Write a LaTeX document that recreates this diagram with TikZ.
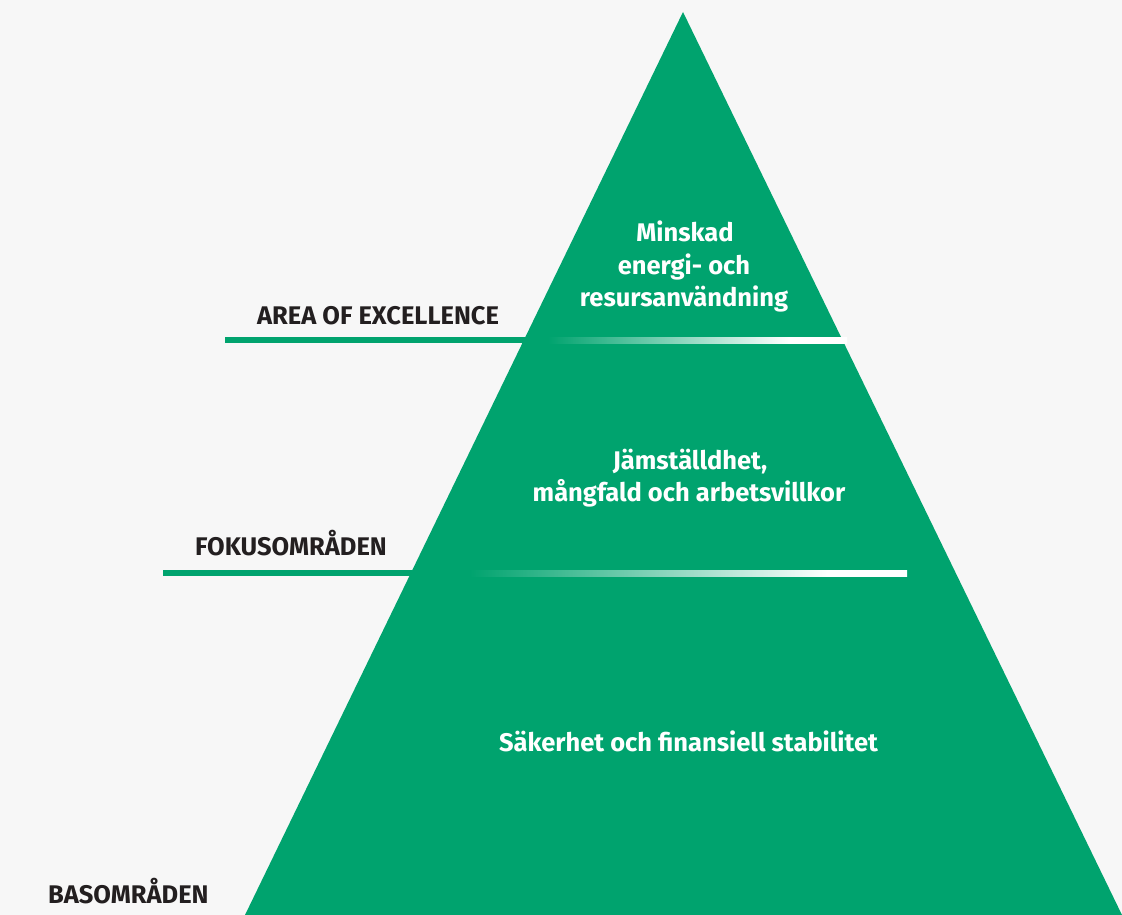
\documentclass[tikz,border=0pt]{standalone}
\usepackage{fontspec}
\setmainfont{Fira Sans}
\definecolor{pg}{HTML}{00A36E}
\definecolor{bgc}{HTML}{F7F7F7}
\definecolor{ink}{HTML}{231F20}
\pgfdeclarehorizontalshading{gradA}{100bp}{color(0bp)=(pg); color(29bp)=(pg); color(66bp)=(white); color(100bp)=(white)}
\pgfdeclarehorizontalshading{gradB}{100bp}{color(0bp)=(pg); color(31bp)=(pg); color(67bp)=(white); color(100bp)=(white)}
\tikzset{
  wt/.style={text=white, font=\bfseries\fontsize{25.5}{30}\selectfont, inner sep=0pt, anchor=base},
  lbl/.style={text=ink, font=\bfseries\fontsize{25.5}{30}\selectfont, inner sep=0pt, anchor=base west},
}
\begin{document}
\begin{tikzpicture}[x=1pt,y=-1pt]
\fill[bgc] (0,0) rectangle (1122,915);
\useasboundingbox (0,0) rectangle (1122,915);
\coordinate (apex) at (683,12);
\coordinate (bl) at (245,915);
\coordinate (br) at (1122,915);
\fill[pg] (apex) -- (bl) -- (br) -- cycle;
% level lines
\fill[pg] (225,337) rectangle (524,343);
\shade[shading=gradA] (522,337) rectangle (847,343);
\fill[pg] (163,570) rectangle (412,576);
\shade[shading=gradB] (410,570) rectangle (907,576);
% texts
\node[wt] (m1) at (685,241.5) {Minskad};
\node[wt] (m2) at (684,274) {energi- och};
\node[wt] (m3) at (684,306.5) {resursanvändning};
\node[wt] (j1) at (690,469) {Jämställdhet,};
\node[wt] (j2) at (689,501.5) {mångfald och arbetsvillkor};
\node[wt] (s1) at (688.5,751.5) {Säkerhet och finansiell stabilitet};
\node[lbl] (l1) at (257,324) {AREA OF EXCELLENCE};
\node[lbl] (l2) at (195,555) {FOKUSOMRÅDEN};
\node[lbl] (l3) at (48,903) {BASOMRÅDEN};
\end{tikzpicture}
\end{document}
